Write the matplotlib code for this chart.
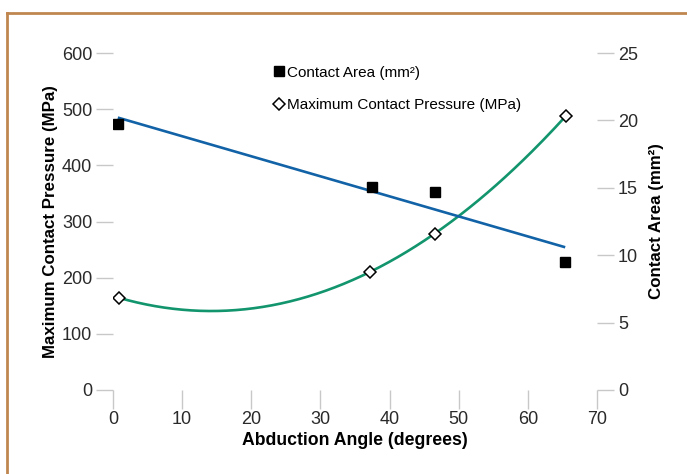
import numpy as np
import matplotlib
matplotlib.use('Agg')
import matplotlib.pyplot as plt
from matplotlib.lines import Line2D

plt.rcParams['font.family'] = ['Liberation Sans', 'DejaVu Sans']

# data
area_angle = [0.7, 37.4, 46.5, 65.4]
contact_area = [19.7, 15.05, 14.7, 9.5]          # mm^2, right axis
press_angle = [0.9, 37.1, 46.5, 65.5]
max_pressure = [164, 210, 278, 488]               # MPa, left axis

x_ticks = [0, 10, 20, 30, 40, 50, 60, 70]
left_ticks = [0, 100, 200, 300, 400, 500, 600]
right_ticks = [0, 5, 10, 15, 20, 25]

blue = '#1162a6'
green = '#12956d'
tick_grey = '#c8c8c8'
text_col = '#2a2a2a'

fig = plt.figure(figsize=(6.87, 4.74), dpi=100)
ax = fig.add_axes([113 / 687, 84 / 474, 484 / 687, 337 / 474])
ax2 = ax.twinx()

# fitted trend lines
lin = np.polyfit(area_angle, contact_area, 1)
xl = np.linspace(min(area_angle), max(area_angle), 100)
ax2.plot(xl, np.polyval(lin, xl), color=blue, lw=1.9, solid_capstyle='butt')

quad = np.polyfit(press_angle, max_pressure, 2)
xq = np.linspace(min(press_angle), max(press_angle), 200)
ax.plot(xq, np.polyval(quad, xq), color=green, lw=1.9)

ax.plot(press_angle, max_pressure, 'D', ms=6.5, mfc='white', mec='black',
        mew=1.1, ls='none', zorder=5)
ax2.plot(area_angle, contact_area, 's', ms=7.5, color='black', ls='none', zorder=5)

ax.set_xlim(0, 70)
ax.set_ylim(0, 600)
ax2.set_ylim(0, 25)
ax.set_xticks(x_ticks)
ax.set_yticks(left_ticks)
ax2.set_yticks(right_ticks)

for a in (ax, ax2):
    for s in a.spines.values():
        s.set_visible(False)
    a.tick_params(colors=tick_grey, labelcolor=text_col, labelsize=13,
                  length=12, width=1, direction='out', pad=3)
ax.tick_params(axis='x', length=14, pad=1)
ax.patch.set_visible(False)

ax.set_xlabel('Abduction Angle (degrees)', fontsize=12.7, fontweight='bold',
              color='black', labelpad=3)
ax.set_ylabel('Maximum Contact Pressure (MPa)', fontsize=12.2,
              fontweight='bold', color='black', labelpad=3)
ax2.set_ylabel('Contact Area (mm²)', fontsize=12.2, fontweight='bold',
               color='black', labelpad=8)

handles = [
    Line2D([], [], marker='s', color='black', ls='none', ms=6.5),
    Line2D([], [], marker='D', mfc='white', mec='black', mew=1.1, ls='none', ms=6),
]
labels = ['Contact Area (mm²)', 'Maximum Contact Pressure (MPa)']
ax2.legend(handles, labels, loc='upper left', bbox_to_anchor=(0.315, 0.985),
           frameon=False, fontsize=11, handlelength=0.8, handletextpad=0.1,
           labelspacing=1.2, borderpad=0)

# brown frame on top and left
border = '#c0864f'
fig.add_artist(Line2D([7 / 687, 1], [1 - 13 / 474] * 2, color=border, lw=2,
                      transform=fig.transFigure))
fig.add_artist(Line2D([7 / 687] * 2, [0, 1 - 13 / 474], color=border, lw=2,
                      transform=fig.transFigure))

fig.savefig('out.png', dpi=100)
